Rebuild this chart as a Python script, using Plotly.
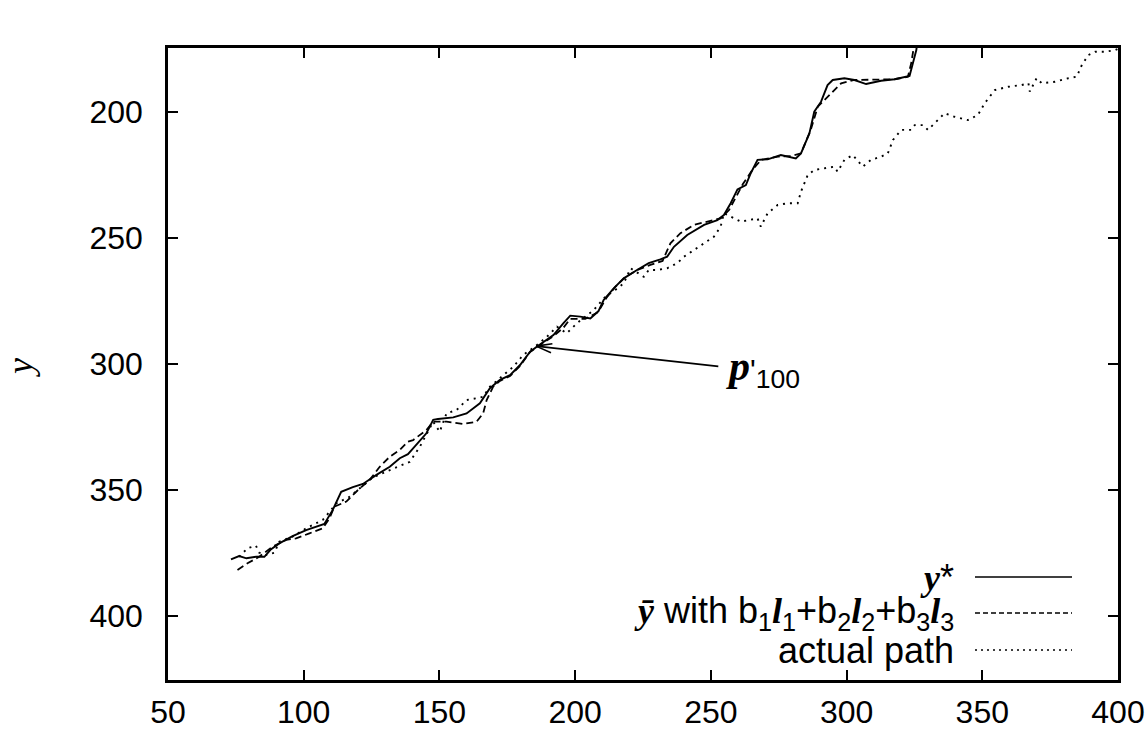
import math
import plotly.graph_objects as go

# ---- data ----
ystar_x = [73.2, 76.2, 78.9, 82.4, 85.5, 88.0, 91.0, 95.9, 100.9, 104.6, 107.6, 110.7, 113.8, 118.1,
           121.8, 126.8, 131.7, 135.4, 138.4, 140.3, 145.2, 147.7, 149.5, 155.1, 160.0, 164.9, 168.6,
           172.3, 176.0, 179.7, 183.4, 186.5, 192.0, 195.7, 198.2, 201.9, 205.6, 208.6, 210.5, 214.2,
           217.9, 222.8, 227.1, 231.4, 233.9, 236.4, 241.3, 247.5, 252.4, 254.8, 257.3, 259.8, 262.9,
           264.7, 267.2, 270.9, 275.8, 281.3, 283.2, 286.3, 288.1, 290.6, 293.0, 294.9, 299.2, 302.9,
           307.2, 312.7, 317.7, 323.2, 324.5, 325.7, 326.3]
ystar_y = [377.5, 376.2, 377.1, 376.5, 376.5, 373.5, 371.2, 368.3, 365.9, 364.6, 363.5, 357.9, 350.7, 348.9,
           347.6, 344.0, 340.8, 337.4, 335.8, 333.5, 327.5, 322.2, 321.8, 321.2, 319.6, 315.6, 309.6,
           306.3, 304.4, 300.4, 295.1, 292.7, 288.5, 283.8, 280.8, 281.2, 281.9, 279.0, 274.6, 270.0,
           266.0, 262.7, 260.0, 258.5, 257.4, 253.5, 248.8, 244.8, 242.9, 240.9, 236.2, 230.7, 229.0,
           224.3, 219.0, 218.8, 217.1, 218.4, 216.4, 208.5, 199.9, 195.9, 189.3, 187.3, 186.6, 187.3,
           188.9, 187.6, 187.0, 185.7, 180.7, 175.4, 170.0]

ybar_x = [75.6, 79.3, 83.6, 88.5, 93.5, 97.2, 102.1, 107.0, 109.5, 111.3, 115.7, 120.0, 124.3, 128.0,
          131.7, 135.4, 138.4, 140.3, 145.2, 147.7, 152.6, 158.8, 163.7, 166.1, 167.4, 169.8, 172.3,
          176.0, 179.7, 183.4, 186.5, 192.0, 195.6, 198.2, 203.7, 208.5, 211.5, 214.8, 218.5, 222.9,
          227.7, 232.2, 235.1, 238.8, 243.7, 248.7, 253.6, 256.7, 259.3, 261.8, 265.3, 268.5, 274.6,
          279.5, 283.2, 286.8, 289.4, 291.8, 294.9, 298.0, 302.9, 307.8, 312.8, 317.7, 322.6, 323.8,
          324.5, 324.9]
ybar_y = [381.7, 379.1, 376.5, 372.5, 369.8, 369.2, 367.2, 365.2, 361.2, 356.6, 354.6, 350.0, 346.0, 340.8,
          336.8, 334.1, 330.8, 330.2, 326.2, 322.9, 322.9, 323.8, 322.9, 319.6, 314.3, 309.0, 306.7,
          304.8, 300.8, 295.2, 292.9, 288.9, 285.7, 282.1, 282.1, 279.4, 273.8, 269.4, 265.5, 262.7,
          260.7, 259.1, 252.1, 248.1, 244.8, 243.5, 242.2, 238.9, 233.6, 228.6, 223.0, 219.0, 217.7,
          217.5, 216.4, 207.1, 197.9, 195.2, 191.9, 188.6, 187.3, 187.3, 187.3, 187.0, 186.0, 180.7,
          176.1, 170.0]

path_x = [76.2, 79.3, 82.4, 83.6, 86.1, 89.2, 91.0, 95.9, 100.9, 107.0, 110.1, 112.0, 116.9, 120.6,
          125.5, 130.4, 135.4, 139.1, 142.8, 147.7, 150.1, 152.6, 156.3, 160.0, 163.7, 166.1, 168.6,
          172.3, 177.2, 180.9, 185.9, 189.6, 193.3, 196.9, 200.7, 206.8, 211.1, 214.8, 217.9, 220.4,
          225.3, 227.1, 230.2, 233.9, 237.6, 240.1, 243.8, 247.5, 251.1, 253.6, 254.8, 257.3, 261.0,
          267.2, 268.4, 270.9, 274.6, 278.3, 282.0, 283.2, 285.7, 288.1, 293.0, 295.5, 296.7, 299.2,
          302.3, 306.0, 309.0, 312.8, 315.2, 317.1, 320.1, 323.8, 325.1, 328.2, 330.0, 332.5, 336.1,
          339.8, 344.7, 348.4, 350.9, 354.6, 359.5, 364.5, 367.0, 367.5, 370.0, 371.9, 376.8, 381.7,
          384.8, 386.7, 389.1, 391.6, 395.3, 399.0, 401.5]
path_y = [376.5, 373.1, 372.1, 374.9, 375.8, 374.9, 370.5, 368.5, 365.2, 361.9, 357.9, 355.3, 352.7, 349.3,
          345.0, 342.7, 340.5, 338.8, 332.8, 322.9, 326.9, 319.6, 318.3, 314.3, 313.6, 313.0, 309.0,
          305.7, 301.1, 296.4, 292.5, 289.2, 285.2, 287.8, 283.8, 278.6, 273.3, 270.6, 268.0, 262.0,
          265.4, 262.7, 262.7, 262.0, 260.0, 257.4, 254.8, 252.1, 249.5, 245.5, 240.2, 241.5, 243.5,
          242.2, 245.5, 240.2, 236.9, 236.2, 236.2, 231.6, 225.0, 223.0, 222.3, 221.7, 223.7, 219.0,
          217.1, 221.7, 219.0, 217.7, 216.4, 211.1, 207.1, 207.1, 205.2, 205.2, 207.1, 204.5, 200.5,
          201.9, 203.2, 201.2, 196.5, 191.3, 190.0, 189.3, 188.6, 191.9, 186.6, 188.6, 188.0, 186.6,
          186.0, 181.3, 177.4, 176.1, 176.1, 175.4, 174.2]

x_ticks = [50, 100, 150, 200, 250, 300, 350, 400]
y_ticks = [200, 250, 300, 350, 400]

arrow_head = (185.6, 292.9)
arrow_tail = (253.3, 301.0)
label_pos = (255.0, 301.6)

# ---- style ----
SANS = "Liberation Sans"
SERIF = "Liberation Serif"
W, H = 1146, 746
ML, MR, MT, MB = 168, 28, 48, 66
PW, PH = W - ML - MR, H - MT - MB


def px(xp):
    return (xp - ML) / PW


def py(yp):
    return (H - MB - yp) / PH


def ser(t):
    return f"<span style='font-family:{SERIF}'><b><i>{t}</i></b></span>"


fig = go.Figure()
fig.add_trace(go.Scatter(x=ystar_x, y=ystar_y, mode="lines",
                         line=dict(color="black", width=1.9), showlegend=False))
fig.add_trace(go.Scatter(x=ybar_x, y=ybar_y, mode="lines",
                         line=dict(color="black", width=1.8, dash="7px,4px"), showlegend=False))
fig.add_trace(go.Scatter(x=path_x, y=path_y, mode="lines",
                         line=dict(color="black", width=1.9, dash="2px,5px"), showlegend=False))

axis_common = dict(showline=True, linecolor="black", linewidth=2.5, mirror="ticks",
                   ticks="inside", ticklen=10, tickwidth=2, tickcolor="black",
                   showgrid=False, zeroline=False, automargin=False,
                   tickfont=dict(family=SANS, size=32, color="black"))
fig.update_xaxes(range=[50, 400], tickvals=x_ticks, ticklabelstandoff=2, **axis_common)
fig.update_yaxes(range=[425.4, 174.6], tickvals=y_ticks, ticklabelstandoff=16, **axis_common)

ann = []
# arrow shaft
ann.append(dict(x=arrow_head[0], y=arrow_head[1], ax=arrow_tail[0], ay=arrow_tail[1],
                xref="x", yref="y", axref="x", ayref="y", text="", showarrow=True,
                arrowhead=0, arrowwidth=1.6, arrowcolor="black", standoff=0))
# open V head
for ang in (-8, 24):
    a = math.radians(ang)
    ann.append(dict(x=arrow_head[0], y=arrow_head[1], ax=18 * math.cos(a), ay=18 * math.sin(a),
                    xref="x", yref="y", text="", showarrow=True, arrowhead=0,
                    arrowwidth=1.6, arrowcolor="black", standoff=0))
# p'_100 label
ann.append(dict(x=label_pos[0], y=label_pos[1], xref="x", yref="y", xanchor="left", yanchor="middle",
                showarrow=False,
                text=f"<span style='font-family:{SERIF};font-size:42px'><b><i>p</i></b></span>"
                     f"<span style='font-size:30px'>'</span><sub>100</sub>",
                font=dict(family=SANS, size=38, color="black")))
# y axis title
ann.append(dict(x=px(20), y=py(368), xref="paper", yref="paper", showarrow=False,
                xanchor="center", yanchor="middle",
                text="<i>y</i>", textangle=-90,
                font=dict(family=SERIF, size=36, color="black")))

# manual gnuplot-style key
legend_rows = [
    (577, ser("y") + "*", None),
    (613, ser("ȳ") + " with b<sub>1</sub>" + ser("l") + "<sub>1</sub>+b<sub>2</sub>" + ser("l")
     + "<sub>2</sub>+b<sub>3</sub>" + ser("l") + "<sub>3</sub>", "5px,3px"),
    (650, "actual path", "2px,4px"),
]
shapes = []
for yp, txt, dash in legend_rows:
    ann.append(dict(x=px(956), y=py(yp), xref="paper", yref="paper", xanchor="right", yanchor="middle",
                    showarrow=False, text=txt, font=dict(family=SANS, size=36, color="black")))
    ln = dict(color="black", width=1.7)
    if dash:
        ln["dash"] = dash
    shapes.append(dict(type="line", xref="paper", yref="paper", x0=px(975), x1=px(1072),
                       y0=py(yp), y1=py(yp), line=ln))

fig.update_layout(width=W, height=H, margin=dict(l=ML, r=MR, t=MT, b=MB, autoexpand=False),
                  paper_bgcolor="white", plot_bgcolor="white",
                  annotations=ann, shapes=shapes, showlegend=False)

fig.write_html("out.html",
               post_script="document.body.style.margin='0';document.body.style.overflow='hidden';")
